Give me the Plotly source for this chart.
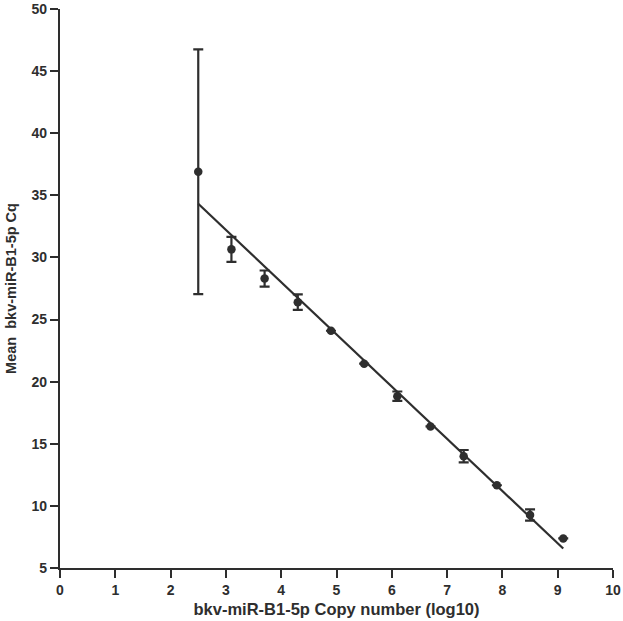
import numpy as np
import plotly.graph_objects as go

log_copies = [2.5, 3.1, 3.7, 4.3, 4.9, 5.5, 6.1, 6.7, 7.3, 7.9, 8.5, 9.1]
mean_cq = [36.9, 30.65, 28.3, 26.4, 24.1, 21.45, 18.83, 16.4, 14.0, 11.66, 9.27, 7.38]
sd_cq = [9.85, 1.0, 0.65, 0.62, 0.0, 0.0, 0.38, 0.0, 0.5, 0.0, 0.45, 0.0]

x_ticks = [0, 1, 2, 3, 4, 5, 6, 7, 8, 9, 10]
y_ticks = [5, 10, 15, 20, 25, 30, 35, 40, 45, 50]

slope, intercept = np.polyfit(log_copies, mean_cq, 1)
fit_x = [log_copies[0], log_copies[-1]]
fit_y = [intercept + slope * v for v in fit_x]

INK = "#2e2e2e"
FONT = "Liberation Sans, Arial, sans-serif"

fig = go.Figure()
fig.add_trace(go.Scatter(
    x=fit_x, y=fit_y, mode="lines",
    line=dict(color=INK, width=2.2), showlegend=False, hoverinfo="skip"))
fig.add_trace(go.Scatter(
    x=log_copies, y=mean_cq, mode="markers",
    marker=dict(color=INK, size=8.5),
    error_y=dict(type="data", array=sd_cq, visible=True, color=INK,
                 thickness=2.2, width=5),
    showlegend=False))

axis_common = dict(
    showline=True, linecolor=INK, linewidth=2.4,
    ticks="outside", ticklen=8, tickwidth=2.2, tickcolor=INK,
    showgrid=False, zeroline=False, automargin=False,
    ticklabeloverflow="allow",
    tickfont=dict(family=FONT, size=14, color=INK),
)

fig.update_layout(
    width=623, height=621,
    margin=dict(l=60, r=10, t=9, b=53),
    paper_bgcolor="white", plot_bgcolor="white",
    font=dict(family=FONT, color=INK),
    xaxis=dict(range=[0, 10], tickvals=x_ticks,
               ticktext=["<b>%d</b>" % v for v in x_ticks], **axis_common,
               title=dict(text="<b>bkv-miR-B1-5p Copy number (log10)</b>",
                          font=dict(family=FONT, size=16.5, color=INK), standoff=6)),
    yaxis=dict(range=[5, 50], tickvals=y_ticks,
               ticktext=["<b>%d</b>" % v for v in y_ticks], **axis_common,
               title=dict(text="<b>Mean  bkv-miR-B1-5p Cq</b>",
                          font=dict(family=FONT, size=14.5, color=INK), standoff=11)),
)

fig.write_html("out.html", config={"displayModeBar": False},
               post_script="document.body.style.margin='0';document.body.style.padding='0';")
